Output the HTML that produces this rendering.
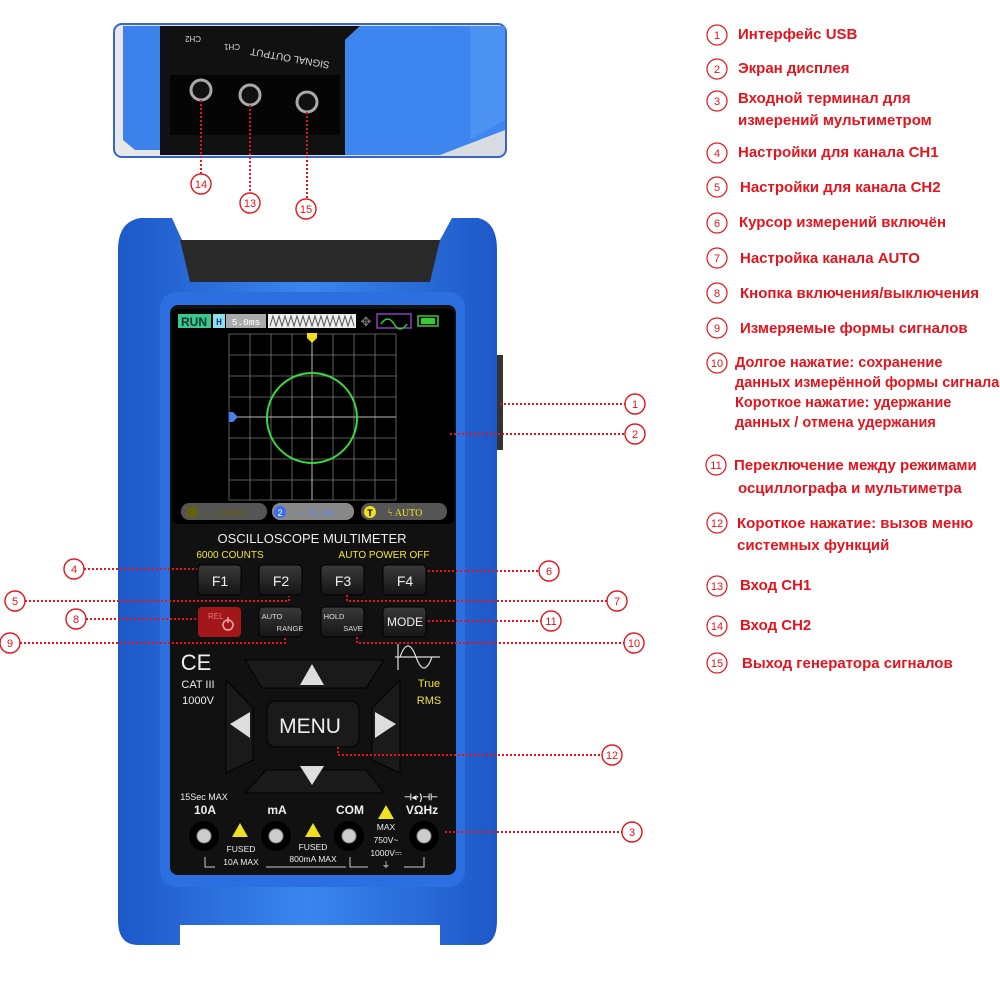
<!DOCTYPE html>
<html><head><meta charset="utf-8"><style>
html,body{margin:0;padding:0;background:#fff;width:1000px;height:1000px;overflow:hidden}
svg{display:block}
.lg{font-family:"Liberation Sans",sans-serif;font-weight:bold;font-size:15px;fill:#e3141d}
.cn{font-family:"Liberation Sans",sans-serif;font-size:11px;fill:#e3141d;text-anchor:middle}
.w{font-family:"Liberation Sans",sans-serif;fill:#eee;text-anchor:middle}
.y{font-family:"Liberation Sans",sans-serif;fill:#f2e33a;text-anchor:middle}
</style></head><body>
<svg width="1000" height="1000" viewBox="0 0 1000 1000">
<defs>
<linearGradient id="bl" x1="0" x2="1"><stop offset="0" stop-color="#1d58c8"/><stop offset=".5" stop-color="#3a86ee"/><stop offset="1" stop-color="#1d58c8"/></linearGradient>
<linearGradient id="btn" x1="0" y1="0" x2="0" y2="1"><stop offset="0" stop-color="#3a3a3a"/><stop offset="1" stop-color="#151515"/></linearGradient>
<linearGradient id="ins" x1="0" y1="0" x2="1" y2="0"><stop offset="0" stop-color="#e8e8ea"/><stop offset="1" stop-color="#d8dbe0"/></linearGradient>
</defs>

<rect x="114" y="24" width="392" height="133" rx="8" fill="url(#ins)" stroke="#3866c8" stroke-width="2"/>
<path d="M123 26 H165 V150 H135 L123 140 Z" fill="#3b82ea"/>
<path d="M160 26 H360 L345 40 V155 H160 Z" fill="#111"/>
<path d="M345 40 L360 26 H505 V130 L440 155 H345 Z" fill="#3d86ef"/>
<path d="M470 26 H505 V120 L470 140 Z" fill="#4b92f2"/>
<rect x="170" y="75" width="170" height="60" fill="#050505"/>
<g fill="#111" stroke="#aaa" stroke-width="3"><circle cx="201" cy="90" r="10"/><circle cx="250" cy="95" r="10"/><circle cx="307" cy="102" r="10"/></g>
<g font-family="Liberation Sans" font-size="8" fill="#ddd" text-anchor="middle">
<text x="193" y="42" transform="rotate(180 193 39)">CH2</text>
<text x="232" y="50" transform="rotate(180 232 47)">CH1</text>
<text x="290" y="61" font-size="10" transform="rotate(190 290 58)">SIGNAL OUTPUT</text>
</g>
<g stroke="#e3141d" stroke-width="2" stroke-dasharray="2 2" fill="none">
<line x1="201" y1="100" x2="201" y2="174"/><line x1="250" y1="105" x2="250" y2="193"/><line x1="307" y1="112" x2="307" y2="199"/>
</g>
<g fill="#fff" stroke="#e3141d" stroke-width="1.4"><circle cx="201" cy="184" r="10"/><circle cx="250" cy="203" r="10"/><circle cx="306" cy="209" r="10"/></g>
<text class="cn" x="201" y="188">14</text><text class="cn" x="250" y="207">13</text><text class="cn" x="306" y="213">15</text>

<path d="M118 250 Q118 222 140 218 H172 L182 240 H440 L452 218 H478 Q497 222 497 250 V920 Q497 945 480 945 H440 V925 H180 V945 H138 Q118 945 118 920 Z" fill="url(#bl)"/>
<rect x="497" y="355" width="6" height="95" fill="#333"/>
<path d="M180 240 H440 L430 282 H190 Z" fill="#2a2a2a"/>
<rect x="160" y="292" width="305" height="595" rx="16" fill="#2b6fe0"/>
<rect x="170" y="305" width="286" height="570" rx="8" fill="#111"/>
<rect x="172" y="309" width="282" height="215" rx="5" fill="#000"/>

<rect x="178" y="314" width="33" height="14" fill="#3cc790"/><text x="194" y="326" font-family="Liberation Sans" font-weight="bold" font-size="12" fill="#0a3a2a" text-anchor="middle">RUN</text>
<rect x="213" y="314" width="12" height="14" fill="#8ce0f0"/><text x="219" y="325" font-family="Liberation Mono" font-size="10" fill="#005" text-anchor="middle">H</text>
<rect x="226" y="314" width="40" height="14" fill="#aaa"/><text x="246" y="325" font-family="Liberation Mono" font-size="9.5" fill="#fff" text-anchor="middle">5.0ms</text>
<rect x="268" y="314" width="88" height="14" fill="#eee"/>
<path d="M270 326 l3-10 3 10 3-10 3 10 3-10 3 10 3-10 3 10 3-10 3 10 3-10 3 10 3-10 3 10 3-10 3 10 3-10 3 10 3-10 3 10 3-10 3 10 3-10 3 10 3-10 3 10 3-10 3 10" stroke="#555" fill="none" stroke-width="1"/>
<text x="366" y="326" font-size="13" fill="#777" text-anchor="middle" font-family="DejaVu Sans">✥</text>
<rect x="377" y="314" width="34" height="14" fill="#000" stroke="#8a3fc0" stroke-width="1.5"/>
<path d="M381 324 q7-10 13 0 t13 0" stroke="#3c3" fill="none" stroke-width="1.5"/>
<rect x="418" y="316" width="20" height="10" fill="#000" stroke="#3c3" stroke-width="1.5"/><rect x="421" y="318" width="14" height="6" fill="#3c3"/>

<g stroke="#777" stroke-width="0.8">
<path d="M229 334 V500 M250 334 V500 M271 334 V500 M292 334 V500 M333 334 V500 M354 334 V500 M375 334 V500 M396 334 V500"/>
<path d="M229 334 H396 M229 355 H396 M229 376 H396 M229 397 H396 M229 438 H396 M229 459 H396 M229 480 H396 M229 500 H396"/>
</g>
<path d="M312 334 V500 M229 417 H396" stroke="#bbb" stroke-width="1"/>
<circle cx="312" cy="418" r="45" fill="none" stroke="#3dd83d" stroke-width="2"/>
<path d="M307 333 h10 v5 l-5 5 l-5 -5 z" fill="#f0e020"/>
<path d="M229 412 h4 l5 5 l-5 5 h-4 z" fill="#4a7ef0"/>
<rect x="181" y="503" width="86" height="17" rx="8" fill="#555"/><circle cx="192" cy="512" r="6" fill="#665f10"/><text x="225" y="516" font-family="Liberation Mono" font-size="10" fill="#665f10" text-anchor="middle">⎓ 500mV</text>
<rect x="272" y="503" width="82" height="17" rx="8" fill="#888"/><circle cx="280" cy="512" r="6" fill="#3a6ef0"/><text x="280" y="516" font-size="9" fill="#fff" text-anchor="middle" font-family="Liberation Sans">2</text><text x="315" y="516" font-family="Liberation Mono" font-size="10" fill="#5a8af0" text-anchor="middle">⎓ 5.0V</text>
<rect x="361" y="503" width="86" height="17" rx="8" fill="#555"/><circle cx="370" cy="512" r="6" fill="#f0e020"/><text x="370" y="516" font-size="9" font-weight="bold" fill="#000" text-anchor="middle" font-family="Liberation Sans">T</text><text x="405" y="516" font-family="Liberation Serif" font-size="10" fill="#f0e020" text-anchor="middle">ϟ  AUTO</text>

<text class="w" x="312" y="543" font-size="13">OSCILLOSCOPE  MULTIMETER</text>
<text class="y" x="230" y="558" font-size="10">6000 COUNTS</text>
<text class="y" x="384" y="558" font-size="10">AUTO POWER OFF</text>
<g fill="url(#btn)" stroke="#000">
<rect x="198" y="565" width="43" height="30" rx="4"/><rect x="259" y="565" width="43" height="30" rx="4"/><rect x="321" y="565" width="43" height="30" rx="4"/><rect x="383" y="565" width="43" height="30" rx="4"/>
<rect x="259" y="607" width="43" height="30" rx="4"/><rect x="321" y="607" width="43" height="30" rx="4"/><rect x="383" y="607" width="43" height="30" rx="4"/>
</g>
<rect x="198" y="607" width="43" height="30" rx="4" fill="#a3171a"/>
<g class="w" font-size="14"><text x="220" y="586" class="w">F1</text><text x="281" y="586" class="w">F2</text><text x="343" y="586" class="w">F3</text><text x="405" y="586" class="w">F4</text></g>
<text x="208" y="619" font-family="Liberation Sans" font-size="8" fill="#d77">REL</text>
<circle cx="228" cy="625" r="5" fill="none" stroke="#eaa" stroke-width="1.5"/><line x1="228" y1="617" x2="228" y2="623" stroke="#eaa" stroke-width="1.5"/>
<text x="272" y="619" font-family="Liberation Sans" font-size="7.5" fill="#ddd" text-anchor="middle">AUTO</text><text x="290" y="631" font-family="Liberation Sans" font-size="7.5" fill="#ddd" text-anchor="middle">RANGE</text>
<text x="334" y="619" font-family="Liberation Sans" font-size="7.5" fill="#ddd" text-anchor="middle">HOLD</text><text x="353" y="631" font-family="Liberation Sans" font-size="7.5" fill="#ddd" text-anchor="middle">SAVE</text>
<text class="w" x="405" y="626" font-size="12">MODE</text>

<text class="w" x="196" y="670" font-size="22">CE</text>
<text class="w" x="198" y="688" font-size="11">CAT III</text><text class="w" x="198" y="704" font-size="11">1000V</text>
<path d="M398 644 V670 M395 657 H440 M400 657 q8-22 16 0 q8 22 16 0" stroke="#ddd" fill="none" stroke-width="1.2"/>
<text class="y" x="429" y="687" font-size="11">True</text><text class="y" x="429" y="704" font-size="11">RMS</text>

<g fill="#1a1a1a" stroke="#000">
<path d="M245 660 H384 L366 688 H262 Z"/>
<path d="M266 792 H366 L384 815 H245 Z" transform="translate(0,-22)"/>
<path d="M226 680 L253 708 V760 L226 773 Z"/>
<path d="M400 680 L372 708 V760 L400 773 Z"/>
<rect x="267" y="701" width="92" height="46" rx="8"/>
</g>
<path d="M300 685 L312 664 L324 685 Z" fill="#ddd"/>
<path d="M300 766 L312 785 L324 766 Z" fill="#ddd"/>
<path d="M250 712 L230 724 L250 738 Z" fill="#ddd"/>
<path d="M375 712 L396 724 L375 738 Z" fill="#ddd"/>
<text class="w" x="310" y="733" font-size="21">MENU</text>

<g class="w" font-size="9"><text x="204" y="800">15Sec MAX</text></g>
<g font-family="Liberation Sans" font-weight="bold" font-size="12" fill="#eee" text-anchor="middle">
<text x="205" y="814">10A</text><text x="277" y="814">mA</text><text x="350" y="814">COM</text><text x="422" y="814">VΩHz</text><text x="421" y="800" font-size="9">⊣◂·)⊣⊢</text></g>
<g fill="#000"><circle cx="204" cy="836" r="15"/><circle cx="276" cy="836" r="15"/><circle cx="349" cy="836" r="15"/><circle cx="424" cy="836" r="15"/></g>
<g fill="#ccc" stroke="#888"><circle cx="204" cy="836" r="7"/><circle cx="276" cy="836" r="7"/><circle cx="349" cy="836" r="7"/><circle cx="424" cy="836" r="7"/></g>
<g fill="#f0e020"><path d="M240 823 l8 14 h-16 z"/><path d="M313 823 l8 14 h-16 z"/><path d="M386 805 l8 14 h-16 z"/></g>
<g class="w" font-size="8.5"><text x="241" y="852">FUSED</text><text x="241" y="865">10A MAX</text><text x="313" y="850">FUSED</text><text x="313" y="862">800mA MAX</text><text x="386" y="830">MAX</text><text x="386" y="843">750V~</text><text x="386" y="856">1000V⎓</text><text x="386" y="868">⏚</text></g>
<path d="M205 857 v10 h10 M266 867 h80 M350 857 v10 h18 M404 867 h20 v-10" stroke="#ccc" fill="none"/>

<g stroke="#e3141d" stroke-width="2" stroke-dasharray="2 2" fill="none">
<line x1="500" y1="404" x2="625" y2="404"/><line x1="450" y1="434" x2="625" y2="434"/>
<line x1="445" y1="832" x2="622" y2="832"/>
<polyline points="338,747 338,755 602,755"/>
<line x1="428" y1="571" x2="539" y2="571"/>
<polyline points="347,595 347,601 607,601"/>
<line x1="428" y1="621" x2="541" y2="621"/>
<polyline points="357,637 357,643 624,643"/>
<line x1="84" y1="569" x2="197" y2="569"/>
<polyline points="25,601 289,601 289,596"/>
<line x1="86" y1="619" x2="197" y2="619"/>
<polyline points="20,643 285,643 285,637"/>
</g>
<g fill="#fff" stroke="#e3141d" stroke-width="1.4">
<circle cx="635" cy="404" r="10"/><circle cx="635" cy="434" r="10"/><circle cx="632" cy="832" r="10"/><circle cx="612" cy="755" r="10"/><circle cx="549" cy="571" r="10"/><circle cx="617" cy="601" r="10"/><circle cx="551" cy="621" r="10"/><circle cx="634" cy="643" r="10"/><circle cx="74" cy="569" r="10"/><circle cx="15" cy="601" r="10"/><circle cx="76" cy="619" r="10"/><circle cx="10" cy="643" r="10"/>
</g>
<g class="cn"><text class="cn" x="635" y="408">1</text><text class="cn" x="635" y="438">2</text><text class="cn" x="632" y="836">3</text><text class="cn" x="612" y="759">12</text><text class="cn" x="549" y="575">6</text><text class="cn" x="617" y="605">7</text><text class="cn" x="551" y="625">11</text><text class="cn" x="634" y="647">10</text><text class="cn" x="74" y="573">4</text><text class="cn" x="15" y="605">5</text><text class="cn" x="76" y="623">8</text><text class="cn" x="10" y="647">9</text></g>

<g fill="#fff" stroke="#e3141d" stroke-width="1.2">
<circle cx="717" cy="35" r="10"/><circle cx="717" cy="69" r="10"/><circle cx="717" cy="101" r="10"/><circle cx="717" cy="153" r="10"/><circle cx="717" cy="187" r="10"/><circle cx="717" cy="223" r="10"/><circle cx="717" cy="258" r="10"/><circle cx="717" cy="293" r="10"/><circle cx="717" cy="328" r="10"/><circle cx="717" cy="363" r="10"/><circle cx="716" cy="465" r="10"/><circle cx="717" cy="523" r="10"/><circle cx="717" cy="586" r="10"/><circle cx="717" cy="626" r="10"/><circle cx="717" cy="663" r="10"/>
</g>
<g class="cn"><text class="cn" x="717" y="39">1</text><text class="cn" x="717" y="73">2</text><text class="cn" x="717" y="105">3</text><text class="cn" x="717" y="157">4</text><text class="cn" x="717" y="191">5</text><text class="cn" x="717" y="227">6</text><text class="cn" x="717" y="262">7</text><text class="cn" x="717" y="297">8</text><text class="cn" x="717" y="332">9</text><text class="cn" x="717" y="367">10</text><text class="cn" x="716" y="469">11</text><text class="cn" x="717" y="527">12</text><text class="cn" x="717" y="590">13</text><text class="cn" x="717" y="630">14</text><text class="cn" x="717" y="667">15</text></g>
<g class="lg">
<text x="738" y="39">Интерфейс USB</text>
<text x="738" y="73">Экран дисплея</text>
<text x="738" y="103">Входной терминал для</text>
<text x="738" y="125">измерений мультиметром</text>
<text x="738" y="157">Настройки для канала CH1</text>
<text x="740" y="192">Настройки для канала CH2</text>
<text x="739" y="227">Курсор измерений включён</text>
<text x="740" y="263">Настройка канала AUTO</text>
<text x="740" y="298">Кнопка включения/выключения</text>
<text x="740" y="333">Измеряемые формы сигналов</text>
<text x="735" y="367" font-size="14.5">Долгое нажатие: сохранение</text>
<text x="735" y="387" font-size="14.5">данных измерённой формы сигнала</text>
<text x="735" y="407" font-size="14.5">Короткое нажатие: удержание</text>
<text x="735" y="427" font-size="14.5">данных / отмена удержания</text>
<text x="734" y="470">Переключение между режимами</text>
<text x="738" y="493">осциллографа и мультиметра</text>
<text x="737" y="528">Короткое нажатие: вызов меню</text>
<text x="737" y="550">системных функций</text>
<text x="740" y="590">Вход CH1</text>
<text x="740" y="630">Вход CH2</text>
<text x="742" y="668">Выход генератора сигналов</text>
</g>
</svg>
</body></html>
